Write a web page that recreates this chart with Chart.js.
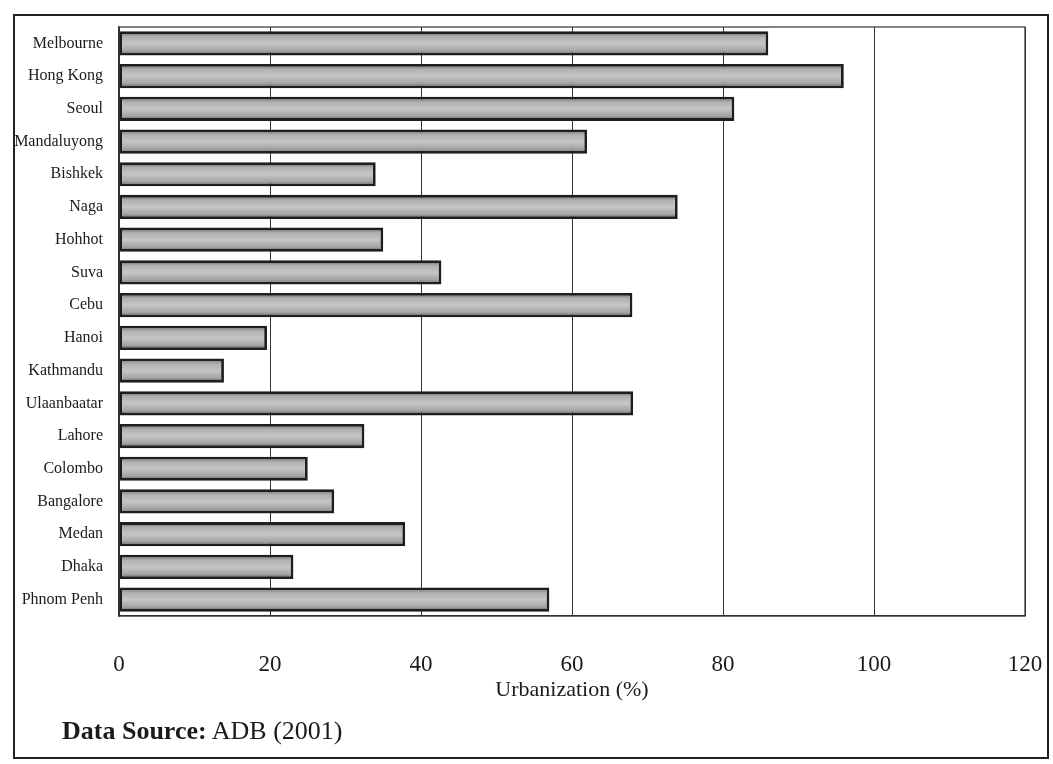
<!DOCTYPE html>
<html>
<head>
<meta charset="utf-8">
<script src="https://cdn.jsdelivr.net/npm/chart.js@4.4.0/dist/chart.umd.min.js"></script>
<style>
  html, body { margin: 0; padding: 0; background: #fff; }
  #wrap { position: relative; width: 1053px; height: 764px; }
  #frame { position: absolute; left: 13px; top: 14px; width: 1032px; height: 741px; border: 2px solid #222; box-sizing: content-box; pointer-events: none; }
  #src { position: absolute; left: 62px; top: 716px; font-family: "Liberation Serif", "Times New Roman", serif; font-size: 26px; color: #1a1a1a; white-space: nowrap; }
  #src b { font-weight: bold; }
  canvas { position: absolute; left: 0; top: 0; }
</style>
</head>
<body>
<div id="wrap">
  <canvas id="c" width="1053" height="764"></canvas>
  <div id="frame"></div>
  <div id="src"><b>Data Source:</b> ADB (2001)</div>
</div>
<script>
const categories = ["Melbourne","Hong Kong","Seoul","Mandaluyong","Bishkek","Naga","Hohhot","Suva","Cebu","Hanoi","Kathmandu","Ulaanbaatar","Lahore","Colombo","Bangalore","Medan","Dhaka","Phnom Penh"];
const urbanization = [86, 96, 81.5, 62, 34, 74, 35, 42.7, 68, 19.6, 13.9, 68.1, 32.5, 25, 28.5, 37.9, 23.1, 57];
const xTicks = [0, 20, 40, 60, 80, 100, 120];
const axisTitle = "Urbanization (%)";

const BAR_PCT = 0.74;

function barFill(ctx) {
  const chart = ctx.chart;
  const y = chart.scales && chart.scales.y;
  if (!y || ctx.dataIndex === undefined || !chart.chartArea) return '#bdbdbd';
  const yc = y.getPixelForValue(ctx.dataIndex);
  const band = (y.bottom - y.top) / categories.length;
  const h = band * BAR_PCT;
  const g = chart.ctx.createLinearGradient(0, yc - h / 2, 0, yc + h / 2);
  g.addColorStop(0, '#5e5e5e');
  g.addColorStop(0.22, '#b0b0b0');
  g.addColorStop(0.5, '#c6c6c6');
  g.addColorStop(0.8, '#a4a4a4');
  g.addColorStop(1, '#505050');
  return g;
}

const areaBorder = {
  id: 'areaBorder',
  afterDraw(chart) {
    const a = chart.chartArea, c = chart.ctx;
    c.save();
    c.strokeStyle = '#333';
    c.lineWidth = 1.2;
    c.strokeRect(a.left, a.top, a.right - a.left, a.bottom - a.top);
    c.restore();
  }
};

new Chart(document.getElementById('c'), {
  type: 'bar',
  data: {
    labels: categories,
    datasets: [{
      data: urbanization,
      backgroundColor: barFill,
      borderColor: '#1e1e1e',
      borderWidth: 2.8,
      borderSkipped: false,
      barPercentage: BAR_PCT,
      categoryPercentage: 1.0
    }]
  },
  options: {
    indexAxis: 'y',
    responsive: false,
    animation: false,
    layout: { padding: { left: 0, right: 28, top: 27, bottom: 61 } },
    plugins: { legend: { display: false }, tooltip: { enabled: false } },
    scales: {
      x: {
        min: 0, max: 120,
        afterBuildTicks(scale) { scale.ticks = xTicks.map(v => ({ value: v })); },
        afterFit(scale) { scale.height = 87; scale.paddingRight = 0; scale.paddingLeft = 0; },
        grid: { color: '#333', lineWidth: 1, drawTicks: false },
        border: { color: '#333', width: 1.2 },
        ticks: {
          padding: 35,
          color: '#1a1a1a',
          font: { family: '"Liberation Serif", "Times New Roman", serif', size: 23 },
          maxRotation: 0
        },
        title: {
          display: true,
          text: axisTitle,
          color: '#1a1a1a',
          font: { family: '"Liberation Serif", "Times New Roman", serif', size: 22 },
          padding: { top: 0, bottom: 0 }
        }
      },
      y: {
        afterFit(scale) { scale.width = 119; },
        grid: { display: false, drawTicks: false },
        border: { color: '#333', width: 1.2 },
        ticks: {
          padding: 16,
          color: '#1a1a1a',
          font: { family: '"Liberation Serif", "Times New Roman", serif', size: 16 }
        }
      }
    }
  },
  plugins: [areaBorder]
});
</script>
</body>
</html>
